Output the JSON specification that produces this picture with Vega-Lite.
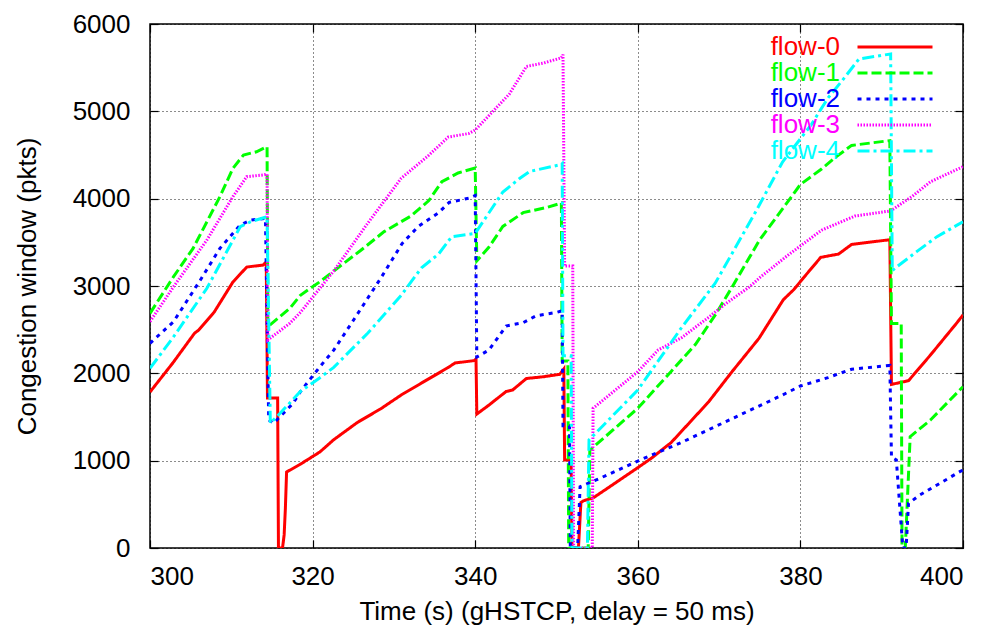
{
  "$schema": "https://vega.github.io/schema/vega-lite/v6.json",
  "width": 813,
  "height": 524,
  "autosize": "none",
  "padding": {"left": 150, "top": 24, "right": 28, "bottom": 84},
  "background": "white",
  "config": {
    "view": {"stroke": "black", "strokeWidth": 1.5},
    "font": "Liberation Sans",
    "axis": {
      "labelFont": "Liberation Sans",
      "titleFont": "Liberation Sans",
      "labelFontSize": 26,
      "titleFontSize": 26,
      "titleFontWeight": "normal",
      "labelColor": "black",
      "titleColor": "black",
      "domain": false,
      "tickColor": "black",
      "tickWidth": 1.2,
      "tickSize": -8,
      "gridColor": "black",
      "gridDash": [1, 3],
      "gridOpacity": 0.9,
      "gridWidth": 1
    }
  },
  "datasets": {
    "cwnd": [
      {"flow": "flow-0", "t": 300, "w": 1786}, {"flow": "flow-0", "t": 302.8, "w": 2118}, {"flow": "flow-0", "t": 305.5, "w": 2462}, {"flow": "flow-0", "t": 306, "w": 2496}, {"flow": "flow-0", "t": 307.9, "w": 2702}, {"flow": "flow-0", "t": 310.2, "w": 3046}, {"flow": "flow-0", "t": 311.9, "w": 3217}, {"flow": "flow-0", "t": 313.9, "w": 3240}, {"flow": "flow-0", "t": 314.3, "w": 3275}, {"flow": "flow-0", "t": 314.45, "w": 1718}, {"flow": "flow-0", "t": 315.7, "w": 1718}, {"flow": "flow-0", "t": 315.8, "w": 0}, {"flow": "flow-0", "t": 316.3, "w": 0}, {"flow": "flow-0", "t": 316.5, "w": 150}, {"flow": "flow-0", "t": 316.65, "w": 450}, {"flow": "flow-0", "t": 316.8, "w": 870}, {"flow": "flow-0", "t": 318.5, "w": 960}, {"flow": "flow-0", "t": 320.9, "w": 1100}, {"flow": "flow-0", "t": 322.6, "w": 1240}, {"flow": "flow-0", "t": 325.5, "w": 1437}, {"flow": "flow-0", "t": 328.4, "w": 1595}, {"flow": "flow-0", "t": 330.9, "w": 1752}, {"flow": "flow-0", "t": 333.4, "w": 1889}, {"flow": "flow-0", "t": 336.7, "w": 2068}, {"flow": "flow-0", "t": 337.5, "w": 2118}, {"flow": "flow-0", "t": 339.9, "w": 2146}, {"flow": "flow-0", "t": 340.1, "w": 2164}, {"flow": "flow-0", "t": 340.2, "w": 1534}, {"flow": "flow-0", "t": 341.7, "w": 1637}, {"flow": "flow-0", "t": 343.8, "w": 1792}, {"flow": "flow-0", "t": 344.6, "w": 1809}, {"flow": "flow-0", "t": 346.3, "w": 1941}, {"flow": "flow-0", "t": 348.4, "w": 1961}, {"flow": "flow-0", "t": 350.4, "w": 1989}, {"flow": "flow-0", "t": 350.9, "w": 2050}, {"flow": "flow-0", "t": 351, "w": 1008}, {"flow": "flow-0", "t": 351.8, "w": 1008}, {"flow": "flow-0", "t": 351.9, "w": 0}, {"flow": "flow-0", "t": 352.7, "w": 0}, {"flow": "flow-0", "t": 353, "w": 520}, {"flow": "flow-0", "t": 353.3, "w": 540}, {"flow": "flow-0", "t": 354.5, "w": 573}, {"flow": "flow-0", "t": 357, "w": 730}, {"flow": "flow-0", "t": 360, "w": 920}, {"flow": "flow-0", "t": 361.7, "w": 1030}, {"flow": "flow-0", "t": 364.1, "w": 1207}, {"flow": "flow-0", "t": 368.7, "w": 1672}, {"flow": "flow-0", "t": 371.6, "w": 2020}, {"flow": "flow-0", "t": 374.9, "w": 2400}, {"flow": "flow-0", "t": 377.9, "w": 2843}, {"flow": "flow-0", "t": 379.2, "w": 2960}, {"flow": "flow-0", "t": 380.4, "w": 3096}, {"flow": "flow-0", "t": 382.5, "w": 3328}, {"flow": "flow-0", "t": 384.7, "w": 3366}, {"flow": "flow-0", "t": 386.3, "w": 3476}, {"flow": "flow-0", "t": 391, "w": 3530}, {"flow": "flow-0", "t": 391.2, "w": 1873}, {"flow": "flow-0", "t": 393.3, "w": 1916}, {"flow": "flow-0", "t": 396, "w": 2210}, {"flow": "flow-0", "t": 399.2, "w": 2573}, {"flow": "flow-0", "t": 400, "w": 2668},

      {"flow": "flow-1", "t": 300, "w": 2687}, {"flow": "flow-1", "t": 302.9, "w": 3107}, {"flow": "flow-1", "t": 305.3, "w": 3431}, {"flow": "flow-1", "t": 308.6, "w": 4023}, {"flow": "flow-1", "t": 310.2, "w": 4347}, {"flow": "flow-1", "t": 311.5, "w": 4500}, {"flow": "flow-1", "t": 313.1, "w": 4537}, {"flow": "flow-1", "t": 314.4, "w": 4595}, {"flow": "flow-1", "t": 314.5, "w": 2534}, {"flow": "flow-1", "t": 317.2, "w": 2744}, {"flow": "flow-1", "t": 318.5, "w": 2894}, {"flow": "flow-1", "t": 320.9, "w": 3049}, {"flow": "flow-1", "t": 322.6, "w": 3172}, {"flow": "flow-1", "t": 325.9, "w": 3406}, {"flow": "flow-1", "t": 328.8, "w": 3623}, {"flow": "flow-1", "t": 332.1, "w": 3801}, {"flow": "flow-1", "t": 334.3, "w": 3978}, {"flow": "flow-1", "t": 335.9, "w": 4194}, {"flow": "flow-1", "t": 337.9, "w": 4294}, {"flow": "flow-1", "t": 340, "w": 4351}, {"flow": "flow-1", "t": 340.2, "w": 3288}, {"flow": "flow-1", "t": 341.7, "w": 3446}, {"flow": "flow-1", "t": 343.4, "w": 3682}, {"flow": "flow-1", "t": 345.9, "w": 3840}, {"flow": "flow-1", "t": 348.8, "w": 3899}, {"flow": "flow-1", "t": 350.6, "w": 3950}, {"flow": "flow-1", "t": 350.7, "w": 2140}, {"flow": "flow-1", "t": 351.4, "w": 2140}, {"flow": "flow-1", "t": 351.5, "w": 0}, {"flow": "flow-1", "t": 353.9, "w": 0}, {"flow": "flow-1", "t": 354.1, "w": 1120}, {"flow": "flow-1", "t": 360, "w": 1600}, {"flow": "flow-1", "t": 364.1, "w": 2022}, {"flow": "flow-1", "t": 367.1, "w": 2332}, {"flow": "flow-1", "t": 369.6, "w": 2679}, {"flow": "flow-1", "t": 371.6, "w": 2988}, {"flow": "flow-1", "t": 375, "w": 3530}, {"flow": "flow-1", "t": 377.1, "w": 3794}, {"flow": "flow-1", "t": 380, "w": 4163}, {"flow": "flow-1", "t": 382.6, "w": 4340}, {"flow": "flow-1", "t": 384.3, "w": 4473}, {"flow": "flow-1", "t": 386.3, "w": 4610}, {"flow": "flow-1", "t": 391, "w": 4665}, {"flow": "flow-1", "t": 391.2, "w": 2572}, {"flow": "flow-1", "t": 392.4, "w": 2572}, {"flow": "flow-1", "t": 392.5, "w": 0}, {"flow": "flow-1", "t": 392.9, "w": 0}, {"flow": "flow-1", "t": 393.5, "w": 1275}, {"flow": "flow-1", "t": 396, "w": 1466}, {"flow": "flow-1", "t": 399.6, "w": 1809}, {"flow": "flow-1", "t": 400, "w": 1847},

      {"flow": "flow-2", "t": 300, "w": 2344}, {"flow": "flow-2", "t": 302.9, "w": 2592}, {"flow": "flow-2", "t": 306.2, "w": 3069}, {"flow": "flow-2", "t": 308.6, "w": 3431}, {"flow": "flow-2", "t": 311.1, "w": 3698}, {"flow": "flow-2", "t": 312.4, "w": 3756}, {"flow": "flow-2", "t": 314.2, "w": 3775}, {"flow": "flow-2", "t": 314.6, "w": 1466}, {"flow": "flow-2", "t": 315.2, "w": 1428}, {"flow": "flow-2", "t": 317.6, "w": 1657}, {"flow": "flow-2", "t": 318.5, "w": 1790}, {"flow": "flow-2", "t": 320.9, "w": 2076}, {"flow": "flow-2", "t": 322.6, "w": 2265}, {"flow": "flow-2", "t": 325.1, "w": 2619}, {"flow": "flow-2", "t": 328.4, "w": 3092}, {"flow": "flow-2", "t": 331, "w": 3485}, {"flow": "flow-2", "t": 333, "w": 3682}, {"flow": "flow-2", "t": 335.5, "w": 3840}, {"flow": "flow-2", "t": 336.8, "w": 3958}, {"flow": "flow-2", "t": 339.2, "w": 4005}, {"flow": "flow-2", "t": 340, "w": 4037}, {"flow": "flow-2", "t": 340.2, "w": 2187}, {"flow": "flow-2", "t": 341.7, "w": 2267}, {"flow": "flow-2", "t": 343.8, "w": 2542}, {"flow": "flow-2", "t": 345.9, "w": 2580}, {"flow": "flow-2", "t": 347.5, "w": 2659}, {"flow": "flow-2", "t": 350, "w": 2698}, {"flow": "flow-2", "t": 350.7, "w": 2717}, {"flow": "flow-2", "t": 350.8, "w": 1400}, {"flow": "flow-2", "t": 351.6, "w": 1400}, {"flow": "flow-2", "t": 351.7, "w": 0}, {"flow": "flow-2", "t": 352.6, "w": 0}, {"flow": "flow-2", "t": 352.9, "w": 702}, {"flow": "flow-2", "t": 355.4, "w": 801}, {"flow": "flow-2", "t": 360, "w": 996}, {"flow": "flow-2", "t": 365.4, "w": 1210}, {"flow": "flow-2", "t": 371.6, "w": 1481}, {"flow": "flow-2", "t": 377.8, "w": 1752}, {"flow": "flow-2", "t": 380, "w": 1855}, {"flow": "flow-2", "t": 383.4, "w": 1951}, {"flow": "flow-2", "t": 386.3, "w": 2047}, {"flow": "flow-2", "t": 391, "w": 2090}, {"flow": "flow-2", "t": 391.2, "w": 1040}, {"flow": "flow-2", "t": 391.8, "w": 1008}, {"flow": "flow-2", "t": 392.6, "w": 0}, {"flow": "flow-2", "t": 393, "w": 0}, {"flow": "flow-2", "t": 393.3, "w": 512}, {"flow": "flow-2", "t": 394.7, "w": 607}, {"flow": "flow-2", "t": 399.6, "w": 874}, {"flow": "flow-2", "t": 400, "w": 893},

      {"flow": "flow-3", "t": 300, "w": 2592}, {"flow": "flow-3", "t": 302.9, "w": 2992}, {"flow": "flow-3", "t": 307, "w": 3527}, {"flow": "flow-3", "t": 310.2, "w": 4023}, {"flow": "flow-3", "t": 311.9, "w": 4252}, {"flow": "flow-3", "t": 313.9, "w": 4271}, {"flow": "flow-3", "t": 314.4, "w": 4280}, {"flow": "flow-3", "t": 314.5, "w": 2382}, {"flow": "flow-3", "t": 317.2, "w": 2573}, {"flow": "flow-3", "t": 318.5, "w": 2698}, {"flow": "flow-3", "t": 320.9, "w": 2974}, {"flow": "flow-3", "t": 322.6, "w": 3172}, {"flow": "flow-3", "t": 326.8, "w": 3721}, {"flow": "flow-3", "t": 330.9, "w": 4234}, {"flow": "flow-3", "t": 334.2, "w": 4489}, {"flow": "flow-3", "t": 336.7, "w": 4706}, {"flow": "flow-3", "t": 339.2, "w": 4746}, {"flow": "flow-3", "t": 340, "w": 4786}, {"flow": "flow-3", "t": 342.6, "w": 5041}, {"flow": "flow-3", "t": 344.2, "w": 5198}, {"flow": "flow-3", "t": 346.3, "w": 5514}, {"flow": "flow-3", "t": 348.4, "w": 5553}, {"flow": "flow-3", "t": 350.6, "w": 5613}, {"flow": "flow-3", "t": 350.8, "w": 5650}, {"flow": "flow-3", "t": 351, "w": 3229}, {"flow": "flow-3", "t": 352, "w": 3229}, {"flow": "flow-3", "t": 352.1, "w": 0}, {"flow": "flow-3", "t": 354.4, "w": 0}, {"flow": "flow-3", "t": 354.5, "w": 1600}, {"flow": "flow-3", "t": 360, "w": 2019}, {"flow": "flow-3", "t": 362.5, "w": 2267}, {"flow": "flow-3", "t": 365.4, "w": 2409}, {"flow": "flow-3", "t": 368.7, "w": 2641}, {"flow": "flow-3", "t": 370.8, "w": 2796}, {"flow": "flow-3", "t": 373.7, "w": 2988}, {"flow": "flow-3", "t": 375, "w": 3096}, {"flow": "flow-3", "t": 378.4, "w": 3348}, {"flow": "flow-3", "t": 382.6, "w": 3639}, {"flow": "flow-3", "t": 386.7, "w": 3801}, {"flow": "flow-3", "t": 391.1, "w": 3860}, {"flow": "flow-3", "t": 393.8, "w": 4030}, {"flow": "flow-3", "t": 396, "w": 4194}, {"flow": "flow-3", "t": 400, "w": 4366},

      {"flow": "flow-4", "t": 300, "w": 2057}, {"flow": "flow-4", "t": 302.9, "w": 2419}, {"flow": "flow-4", "t": 307, "w": 2974}, {"flow": "flow-4", "t": 311.1, "w": 3679}, {"flow": "flow-4", "t": 312.4, "w": 3736}, {"flow": "flow-4", "t": 314.4, "w": 3793}, {"flow": "flow-4", "t": 314.8, "w": 1428}, {"flow": "flow-4", "t": 316, "w": 1542}, {"flow": "flow-4", "t": 318.5, "w": 1792}, {"flow": "flow-4", "t": 320.9, "w": 1950}, {"flow": "flow-4", "t": 322.6, "w": 2068}, {"flow": "flow-4", "t": 326.8, "w": 2462}, {"flow": "flow-4", "t": 330.9, "w": 2894}, {"flow": "flow-4", "t": 333.4, "w": 3209}, {"flow": "flow-4", "t": 335.5, "w": 3366}, {"flow": "flow-4", "t": 337.1, "w": 3564}, {"flow": "flow-4", "t": 340, "w": 3603}, {"flow": "flow-4", "t": 343.4, "w": 4076}, {"flow": "flow-4", "t": 345.5, "w": 4234}, {"flow": "flow-4", "t": 346.7, "w": 4312}, {"flow": "flow-4", "t": 350.6, "w": 4391}, {"flow": "flow-4", "t": 350.7, "w": 4400}, {"flow": "flow-4", "t": 350.8, "w": 2200}, {"flow": "flow-4", "t": 351.8, "w": 2200}, {"flow": "flow-4", "t": 351.9, "w": 0}, {"flow": "flow-4", "t": 353.8, "w": 0}, {"flow": "flow-4", "t": 354, "w": 1237}, {"flow": "flow-4", "t": 360, "w": 1809}, {"flow": "flow-4", "t": 365.4, "w": 2526}, {"flow": "flow-4", "t": 369.5, "w": 3029}, {"flow": "flow-4", "t": 374.5, "w": 3850}, {"flow": "flow-4", "t": 377.8, "w": 4420}, {"flow": "flow-4", "t": 381.3, "w": 4843}, {"flow": "flow-4", "t": 383.4, "w": 5153}, {"flow": "flow-4", "t": 385.1, "w": 5347}, {"flow": "flow-4", "t": 387.2, "w": 5599}, {"flow": "flow-4", "t": 391.1, "w": 5657}, {"flow": "flow-4", "t": 391.3, "w": 3174}, {"flow": "flow-4", "t": 391.6, "w": 3202}, {"flow": "flow-4", "t": 394.3, "w": 3393}, {"flow": "flow-4", "t": 396.8, "w": 3565}, {"flow": "flow-4", "t": 400, "w": 3736}
    ]
  },
  "data": {"name": "cwnd"},
  "layer": [
    {
      "mark": {"type": "line", "strokeWidth": 3, "clip": true},
      "encoding": {
        "x": {
          "field": "t", "type": "quantitative",
          "scale": {"domain": [300, 400], "nice": false, "zero": false},
          "axis": {"values": [300, 320, 340, 360, 380, 400], "title": "Time (s) (gHSTCP, delay = 50 ms)", "labelPadding": 23, "titlePadding": 9, "grid": true}
        },
        "y": {
          "field": "w", "type": "quantitative",
          "scale": {"domain": [0, 6000], "nice": false},
          "axis": {"values": [0, 1000, 2000, 3000, 4000, 5000, 6000], "title": "Congestion window (pkts)", "labelPadding": 28, "titlePadding": 32, "grid": true, "format": "d"}
        },
        "color": {
          "field": "flow", "type": "nominal",
          "scale": {"domain": ["flow-0", "flow-1", "flow-2", "flow-3", "flow-4"], "range": ["#ff0000", "#00ff00", "#0000ff", "#ff00ff", "#00ffff"]},
          "legend": {
            "title": null,
            "orient": "none",
            "legendX": 732,
            "legendY": 10,
            "padding": 0,
            "symbolType": "M-7.5,0H7.5",
            "symbolSize": 100,
            "symbolStrokeWidth": 3,
            "symbolFillColor": "transparent",
            "symbolOffset": 0,
            "labelOffset": -68,
            "labelAlign": "right",
            "labelFont": "Liberation Sans",
            "labelFontSize": 26,
            "labelLimit": 200,
            "rowPadding": 0,
            "encode": {"labels": {"update": {"fill": {"scale": "color", "field": "value"}}}}
          }
        },
        "strokeDash": {
          "field": "flow", "type": "nominal",
          "scale": {"domain": ["flow-0", "flow-1", "flow-2", "flow-3", "flow-4"], "range": [[1, 0], [10, 4], [4, 5], [1.5, 1.5], [12, 4, 3, 4]]},
          "legend": null
        }
      }
    },
    {
      "mark": {"type": "line", "opacity": 0},
      "encoding": {
        "x": {"field": "t", "type": "quantitative", "axis": {"orient": "top", "values": [300, 320, 340, 360, 380, 400], "labels": false, "title": null, "grid": false}},
        "y": {"field": "w", "type": "quantitative", "axis": {"orient": "right", "values": [0, 1000, 2000, 3000, 4000, 5000, 6000], "labels": false, "title": null, "grid": false}},
        "detail": {"field": "flow"}
      }
    }
  ],
  "resolve": {"axis": {"x": "independent", "y": "independent"}}
}
